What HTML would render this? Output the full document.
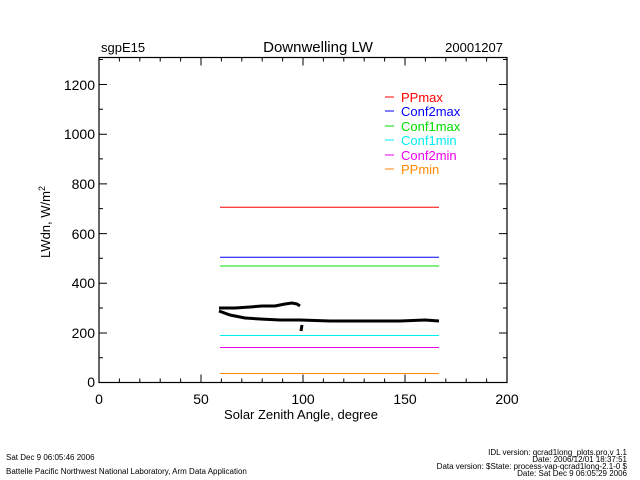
<!DOCTYPE html>
<html><head><meta charset="utf-8"><style>
html,body{margin:0;padding:0;background:#fff;}
svg{display:block;font-family:"Liberation Sans",sans-serif;}
</style></head><body>
<svg width="640" height="480" viewBox="0 0 640 480" xmlns="http://www.w3.org/2000/svg">
<rect width="640" height="480" fill="#fff"/>
<text x="101" y="52" font-size="13">sgpE15</text>
<text x="318" y="52" font-size="15" text-anchor="middle">Downwelling LW</text>
<text x="503" y="52" font-size="13" text-anchor="end">20001207</text>
<rect x="99" y="57.5" width="408" height="325" fill="none" stroke="#000" stroke-width="1.2"/>
<g stroke="#000" stroke-width="1">
<!-- x ticks -->
<path d="M119.4,382.5v-4M139.8,382.5v-4M160.2,382.5v-4M180.6,382.5v-4M221.4,382.5v-4M241.8,382.5v-4M262.2,382.5v-4M282.6,382.5v-4M323.4,382.5v-4M343.8,382.5v-4M364.2,382.5v-4M384.6,382.5v-4M425.4,382.5v-4M445.8,382.5v-4M466.2,382.5v-4M486.6,382.5v-4"/>
<path d="M201,382.5v-8M303,382.5v-8M405,382.5v-8"/>
<path d="M119.4,57.5v4M139.8,57.5v4M160.2,57.5v4M180.6,57.5v4M221.4,57.5v4M241.8,57.5v4M262.2,57.5v4M282.6,57.5v4M323.4,57.5v4M343.8,57.5v4M364.2,57.5v4M384.6,57.5v4M425.4,57.5v4M445.8,57.5v4M466.2,57.5v4M486.6,57.5v4"/>
<path d="M201,57.5v8M303,57.5v8M405,57.5v8"/>
<!-- y ticks -->
<path d="M99,357.7h4M99,308h4M99,258.3h4M99,208.6h4M99,158.9h4M99,109.2h4M99,59.5h4"/>
<path d="M99,333h8M99,283.3h8M99,233.6h8M99,183.9h8M99,134.2h8M99,84.5h8"/>
<path d="M507,357.7h-4M507,308h-4M507,258.3h-4M507,208.6h-4M507,158.9h-4M507,109.2h-4M507,59.5h-4"/>
<path d="M507,333h-8M507,283.3h-8M507,233.6h-8M507,183.9h-8M507,134.2h-8M507,84.5h-8"/>
</g>
<g font-size="14" text-anchor="middle">
<text x="99" y="404">0</text><text x="201" y="404">50</text><text x="303" y="404">100</text><text x="405" y="404">150</text><text x="507" y="404">200</text>
</g>
<g font-size="14" text-anchor="end">
<text x="95" y="387">0</text><text x="95" y="338">200</text><text x="95" y="288">400</text><text x="95" y="239">600</text><text x="95" y="189">800</text><text x="95" y="139">1000</text><text x="95" y="90">1200</text>
</g>
<text x="301" y="419" font-size="13" text-anchor="middle">Solar Zenith Angle, degree</text>
<text transform="translate(50,222) rotate(-90)" font-size="13" text-anchor="middle">LWdn, W/m<tspan font-size="9" dy="-5">2</tspan></text>
<!-- horizontal lines -->
<g stroke-width="1">
<line x1="220" y1="207.3" x2="439" y2="207.3" stroke="#f00"/>
<line x1="220" y1="257.3" x2="439" y2="257.3" stroke="#00f"/>
<line x1="220" y1="266" x2="439" y2="266" stroke="#0d0"/>
<line x1="220" y1="335.5" x2="439" y2="335.5" stroke="#0ee"/>
<line x1="220" y1="347.5" x2="439" y2="347.5" stroke="#e0e"/>
<line x1="220" y1="373.5" x2="439" y2="373.5" stroke="#f80"/>
</g>
<!-- data -->
<g fill="none" stroke="#000" stroke-width="3">
<polyline points="219,308 235,308 250,307 262,306 275,306 285,304 292,303 297,304 300,306"/>
<polyline points="219,311 230,315 245,318 260,319 280,320 300,320 330,321 360,321 400,321 425,320 439,321"/>
<line x1="302" y1="325" x2="301" y2="331"/>
</g>
<!-- legend -->
<g stroke-width="1">
<line x1="385" y1="97" x2="394" y2="97" stroke="#f00"/>
<line x1="385" y1="111" x2="394" y2="111" stroke="#00f"/>
<line x1="385" y1="126" x2="394" y2="126" stroke="#0d0"/>
<line x1="385" y1="140" x2="394" y2="140" stroke="#0ee"/>
<line x1="385" y1="155" x2="394" y2="155" stroke="#e0e"/>
<line x1="385" y1="169" x2="394" y2="169" stroke="#f80"/>
</g>
<g font-size="13">
<text x="401" y="102" fill="#f00">PPmax</text>
<text x="401" y="116" fill="#00f">Conf2max</text>
<text x="401" y="131" fill="#0d0">Conf1max</text>
<text x="401" y="145" fill="#0ee">Conf1min</text>
<text x="401" y="160" fill="#e0e">Conf2min</text>
<text x="401" y="174" fill="#f80">PPmin</text>
</g>
<!-- footer -->
<g font-size="8">
<text x="6" y="460">Sat Dec  9 06:05:46 2006</text>
<text x="6" y="474">Battelle Pacific Northwest National Laboratory, Arm Data Application</text>
<g text-anchor="end">
<text x="627" y="455">IDL version: qcrad1long_plots.pro,v 1.1</text>
<text x="627" y="462">Date: 2006/12/01 18:37:51</text>
<text x="627" y="469">Data version: $State: process-vap-qcrad1long-2.1-0 $</text>
<text x="627" y="476">Date: Sat Dec  9 06:05:29 2006</text>
</g>
</g>
</svg>
</body></html>
